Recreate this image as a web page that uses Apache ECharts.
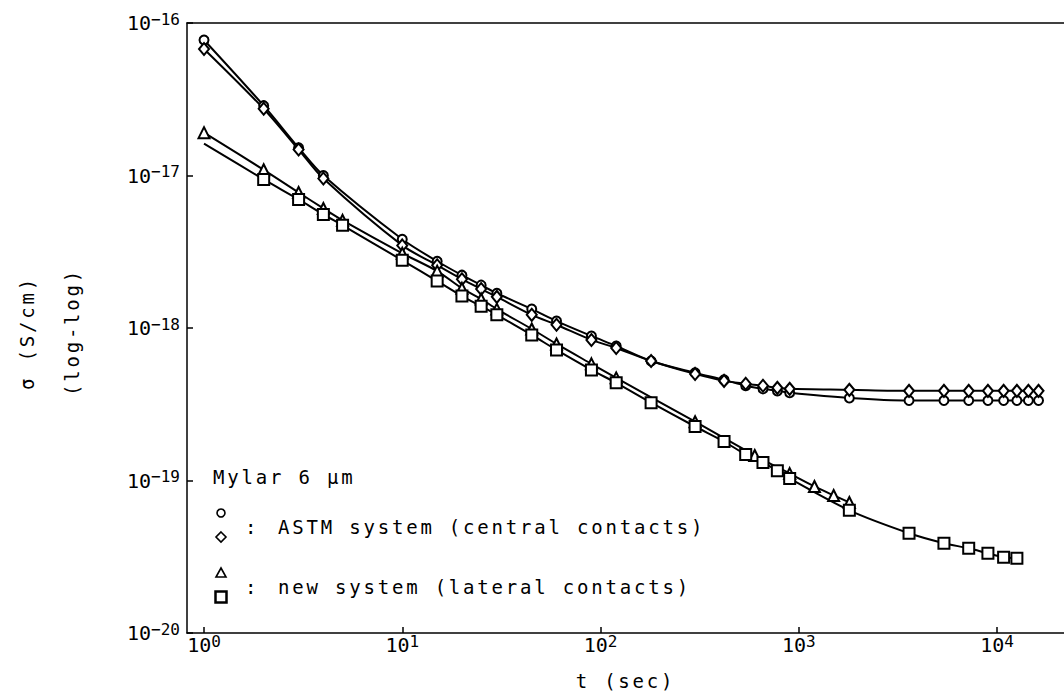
<!DOCTYPE html>
<html>
<head>
<meta charset="utf-8">
<script src="https://cdn.jsdelivr.net/npm/echarts@6/dist/echarts.min.js"></script>
<style>
  html, body { margin: 0; padding: 0; background: #fff; }
  #chart { width: 1064px; height: 695px; }
  /* plotter-like wide lettering for the body text */
  #chart text[style*="monospace"] { letter-spacing: 2.8px; }
</style>
</head>
<body>
<div id="chart"></div>
<script>
// decades shown on the axes (log10 of value)
var xTicks = [0, 1, 2, 3, 4];
var yTicks = [-20, -19, -18, -17, -16];

// ASTM system, central contacts (circles)
var tCircle = [1, 2, 3, 4, 10, 15, 20, 25, 30, 45, 60, 90, 120, 180, 300, 420, 540, 660, 780, 900,
  1800, 3600, 5400, 7200, 9000, 10800, 12600, 14400, 16200];
var sigmaCircle = [7.74e-17, 2.87e-17, 1.52e-17, 1.0e-17, 3.82e-18, 2.74e-18, 2.22e-18, 1.91e-18, 1.69e-18,
  1.33e-18, 1.11e-18, 8.87e-19, 7.62e-19, 6.08e-19, 5.08e-19, 4.57e-19, 4.18e-19, 3.99e-19, 3.87e-19, 3.76e-19,
  3.48e-19, 3.35e-19, 3.35e-19, 3.35e-19, 3.35e-19, 3.35e-19, 3.35e-19, 3.35e-19, 3.35e-19];

// ASTM system, central contacts (diamonds)
var tDiamond = [1, 2, 3, 4, 10, 15, 20, 25, 30, 45, 60, 90, 120, 180, 300, 420, 540, 660, 780, 900,
  1800, 3600, 5400, 7200, 9000, 10800, 12600, 14400, 16200];
var sigmaDiamond = [6.76e-17, 2.74e-17, 1.48e-17, 9.55e-18, 3.48e-18, 2.58e-18, 2.09e-18, 1.80e-18, 1.60e-18,
  1.22e-18, 1.05e-18, 8.35e-19, 7.39e-19, 6.08e-19, 5.0e-19, 4.5e-19, 4.31e-19, 4.18e-19, 4.05e-19, 3.99e-19,
  3.93e-19, 3.87e-19, 3.87e-19, 3.87e-19, 3.87e-19, 3.87e-19, 3.87e-19, 3.87e-19, 3.87e-19];

// new system, lateral contacts (triangles)
var tTriangle = [1, 2, 3, 4, 5, 10, 15, 20, 25, 30, 45, 60, 90, 120, 300, 600, 900, 1200, 1500, 1800];
var sigmaTriangle = [1.91e-17, 1.09e-17, 7.74e-18, 6.08e-18, 5.08e-18, 3.09e-18, 2.36e-18, 1.82e-18, 1.55e-18,
  1.33e-18, 9.85e-19, 7.86e-19, 5.82e-19, 4.71e-19, 2.43e-19, 1.46e-19, 1.11e-19, 9.14e-20, 7.98e-20, 7.18e-20];

// new system, lateral contacts (squares); the t=1 point only starts the curve
var tSquare = [1, 2, 3, 4, 5, 10, 15, 20, 25, 30, 45, 60, 90, 120, 180, 300, 420, 540, 660, 780, 900,
  1800, 3600, 5400, 7200, 9000, 10800, 12600];
var sigmaSquare = [1.62e-17, 9.42e-18, 6.97e-18, 5.56e-18, 4.71e-18, 2.78e-18, 2.03e-18, 1.62e-18, 1.39e-18,
  1.22e-18, 9.0e-19, 7.18e-19, 5.31e-19, 4.37e-19, 3.24e-19, 2.26e-19, 1.80e-19, 1.48e-19, 1.31e-19, 1.16e-19,
  1.03e-19, 6.37e-20, 4.51e-20, 3.88e-20, 3.59e-20, 3.33e-20, 3.14e-20, 3.09e-20];

function pow10Label(v) {
  return '{b|10}{s|' + String(Math.round(v)).replace('-', '\u2212') + '}';
}

function toLog(ts, ss) {
  return ts.map(function (t, i) { return [Math.log10(t), Math.log10(ss[i])]; });
}

var tickFont = 'DejaVu Sans Mono';
var bodyFont = "'DejaVu Sans Mono', monospace";

var tickRich = {
  b: { fontSize: 20, fontFamily: tickFont, color: '#000', lineHeight: 24 },
  s: { fontSize: 16, fontFamily: tickFont, color: '#000', lineHeight: 12, verticalAlign: 'top' }
};

var chart = echarts.init(document.getElementById('chart'), null, { renderer: 'svg' });

function lineSeries(data, symbol, size, bw) {
  return {
    type: 'line',
    data: data,
    symbol: symbol,
    symbolSize: size,
    smooth: 0.3,
    animation: false,
    lineStyle: { color: '#000', width: 2 },
    itemStyle: { color: '#000', borderColor: '#000', borderWidth: bw }
  };
}

var squareData = toLog(tSquare, sigmaSquare);
squareData[0] = { value: squareData[0], symbol: 'none' };

var option = {
  backgroundColor: '#fff',
  animation: false,
  grid: { left: 187, right: 0, top: 23, bottom: 61, containLabel: false },
  xAxis: [{
    type: 'value',
    min: -0.0858,
    max: 4.338,
    splitLine: { show: false },
    axisLine: { onZero: false, lineStyle: { color: '#000', width: 1.5 } },
    axisTick: { inside: true, length: 6, customValues: xTicks, lineStyle: { color: '#000', width: 1.5 } },
    axisLabel: { customValues: xTicks, formatter: pow10Label, margin: 0, rich: tickRich },
    name: 't (sec)',
    nameLocation: 'middle',
    nameGap: 38,
    nameTextStyle: { color: '#000', fontSize: 19, fontFamily: bodyFont }
  }, {
    type: 'value',
    position: 'top',
    min: -0.0858,
    max: 4.338,
    splitLine: { show: false },
    axisLine: { onZero: false, lineStyle: { color: '#000', width: 1.5 } },
    axisTick: { show: false },
    axisLabel: { show: false }
  }],
  yAxis: {
    type: 'value',
    min: yTicks[0],
    max: yTicks[yTicks.length - 1],
    interval: 1,
    splitLine: { show: false },
    axisLine: { onZero: false, lineStyle: { color: '#000', width: 1.5 } },
    axisTick: { inside: true, length: 6, lineStyle: { color: '#000', width: 1.5 } },
    axisLabel: { formatter: pow10Label, margin: 7, rich: tickRich }
  },
  series: [
    lineSeries(toLog(tCircle, sigmaCircle), 'emptyCircle', 9, 1.6),
    lineSeries(toLog(tDiamond, sigmaDiamond), 'emptyDiamond', [10, 12], 1.6),
    lineSeries(toLog(tTriangle, sigmaTriangle), 'emptyTriangle', 11, 1.6),
    lineSeries(squareData, 'emptyRect', 11, 2)
  ],
  graphic: [
    { type: 'text', x: 27, y: 333, rotation: Math.PI / 2,
      style: { text: 'σ (S/cm)', fill: '#000', fontSize: 19, fontFamily: bodyFont, textAlign: 'center', textVerticalAlign: 'middle' } },
    { type: 'text', x: 72, y: 332, rotation: Math.PI / 2,
      style: { text: '(log-log)', fill: '#000', fontSize: 19, fontFamily: bodyFont, textAlign: 'center', textVerticalAlign: 'middle' } },
    { type: 'text', x: 213, y: 477,
      style: { text: 'Mylar 6 μm', fill: '#000', fontSize: 19, fontFamily: bodyFont, textAlign: 'left', textVerticalAlign: 'middle' } },
    { type: 'circle', shape: { cx: 221, cy: 513, r: 4 }, style: { fill: '#fff', stroke: '#000', lineWidth: 1.6 } },
    { type: 'polygon', shape: { points: [[221, 532], [226, 537], [221, 542], [216, 537]] }, style: { fill: '#fff', stroke: '#000', lineWidth: 1.6 } },
    { type: 'text', x: 252, y: 527,
      style: { text: ':', fill: '#000', fontSize: 19, fontFamily: bodyFont, textAlign: 'center', textVerticalAlign: 'middle' } },
    { type: 'text', x: 278, y: 527,
      style: { text: 'ASTM system (central contacts)', fill: '#000', fontSize: 19, fontFamily: bodyFont, textAlign: 'left', textVerticalAlign: 'middle' } },
    { type: 'polygon', shape: { points: [[221, 568], [226, 577], [216, 577]] }, style: { fill: '#fff', stroke: '#000', lineWidth: 1.6 } },
    { type: 'rect', shape: { x: 215.5, y: 591.5, width: 11, height: 11 }, style: { fill: '#fff', stroke: '#000', lineWidth: 2.5 } },
    { type: 'text', x: 252, y: 587,
      style: { text: ':', fill: '#000', fontSize: 19, fontFamily: bodyFont, textAlign: 'center', textVerticalAlign: 'middle' } },
    { type: 'text', x: 278, y: 587,
      style: { text: 'new system (lateral contacts)', fill: '#000', fontSize: 19, fontFamily: bodyFont, textAlign: 'left', textVerticalAlign: 'middle' } }
  ]
};

chart.setOption(option);
</script>
</body>
</html>
